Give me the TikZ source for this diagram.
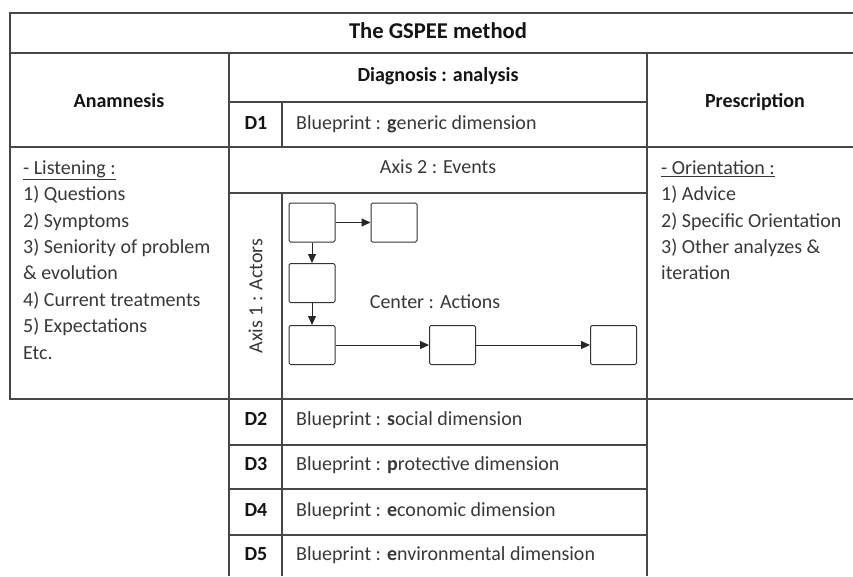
\documentclass[tikz,border=0pt]{standalone}
\usepackage{fontspec}
\setmainfont{Carlito}
\usetikzlibrary{arrows.meta}
\begin{document}
\begin{tikzpicture}[x=1pt,y=-1pt,
  rule/.style={line width=1.2pt, draw=black!72},
  actbox/.style={draw=black!80, line width=1pt, rounded corners=1.5pt,
    minimum width=46pt, minimum height=39pt, inner sep=0pt},
  flow/.style={line width=1pt, draw=black!85, -{Triangle[length=9pt,width=8pt]}},
  txt/.style={font=\fontsize{20}{24}\selectfont, text=black!78, inner sep=0pt},
  head/.style={font=\fontsize{20}{24}\selectfont\bfseries, text=black!92, inner sep=0pt},
]
\useasboundingbox (0,0) rectangle (853,576);

% table rules
\draw[rule] (853,13) -- (10,13) -- (10,399) -- (853,399);
\draw[rule] (10,53) -- (853,53);
\draw[rule] (10,147) -- (853,147);
\draw[rule] (229,102) -- (647,102);
\draw[rule] (229,193) -- (647,193);
\draw[rule] (229,53) -- (229,576);
\draw[rule] (647,53) -- (647,576);
\draw[rule] (282,102) -- (282,147);
\draw[rule] (282,193) -- (282,576);
\foreach \yy in {445,489,535} \draw[rule] (229,\yy) -- (647,\yy);

% headings
\node[head, anchor=mid, font=\fontsize{22.6}{27}\selectfont\bfseries] (title) at (438,36) {The GSPEE method};
\node[head, anchor=mid] (diag) at (438,79) {Diagnosis : analysis};
\node[head, anchor=mid] (anam) at (119,105.5) {Anamnesis};
\node[head, anchor=mid] (presc) at (755,105.5) {Prescription};

% blueprint rows
\node[head, anchor=mid] (d1) at (256,127) {D1};
\node[txt, anchor=mid west] (bp1) at (296,127) {Blueprint : \textbf{g}eneric dimension};
\node[head, anchor=mid] (d2) at (256,423) {D2};
\node[txt, anchor=mid west] (bp2) at (296,423) {Blueprint : \textbf{s}ocial dimension};
\node[head, anchor=mid] (d3) at (256,468.5) {D3};
\node[txt, anchor=mid west] (bp3) at (296,468.5) {Blueprint : \textbf{p}rotective dimension};
\node[head, anchor=mid] (d4) at (256,514.5) {D4};
\node[txt, anchor=mid west] (bp4) at (296,514.5) {Blueprint : \textbf{e}conomic dimension};
\node[head, anchor=mid] (d5) at (256,558) {D5};
\node[txt, anchor=mid west] (bp5) at (296,558) {Blueprint : \textbf{e}nvironmental dimension};

% axes
\node[txt, anchor=mid] (ax2) at (438,171) {Axis 2 : Events};
\node[txt, anchor=mid, rotate=90] (ax1) at (260,296) {Axis 1 : Actors};
\node[txt, anchor=mid] (ctr) at (435,306) {Center : Actions};

% anamnesis list
\foreach \t [count=\i] in {\underline{- Listening :}, 1) Questions, 2) Symptoms,
    3) Seniority of problem, \& evolution, 4) Current treatments,
    5) Expectations, Etc.}
  \node[txt, anchor=mid west] (ana\i) at (23,{172+26.4*(\i-1)}) {\t};

% prescription list
\foreach \t [count=\i] in {\underline{- Orientation :}, 1) Advice,
    2) Specific Orientation, 3) Other analyzes \&, iteration}
  \node[txt, anchor=mid west] (pre\i) at (661,{172+26.4*(\i-1)}) {\t};

% actions grid
\node[actbox] (b1) at (312,222.5) {};
\node[actbox] (b2) at (394,222.5) {};
\node[actbox] (b3) at (312,283) {};
\node[actbox] (b4) at (312,345) {};
\node[actbox] (b5) at (452.5,345) {};
\node[actbox] (b6) at (613.5,345) {};
\draw[flow] (b1) -- (b2);
\draw[flow] (b1) -- (b3);
\draw[flow] (b3) -- (b4);
\draw[flow] (b4) -- (b5);
\draw[flow] (b5) -- (b6);
\end{tikzpicture}
\end{document}
